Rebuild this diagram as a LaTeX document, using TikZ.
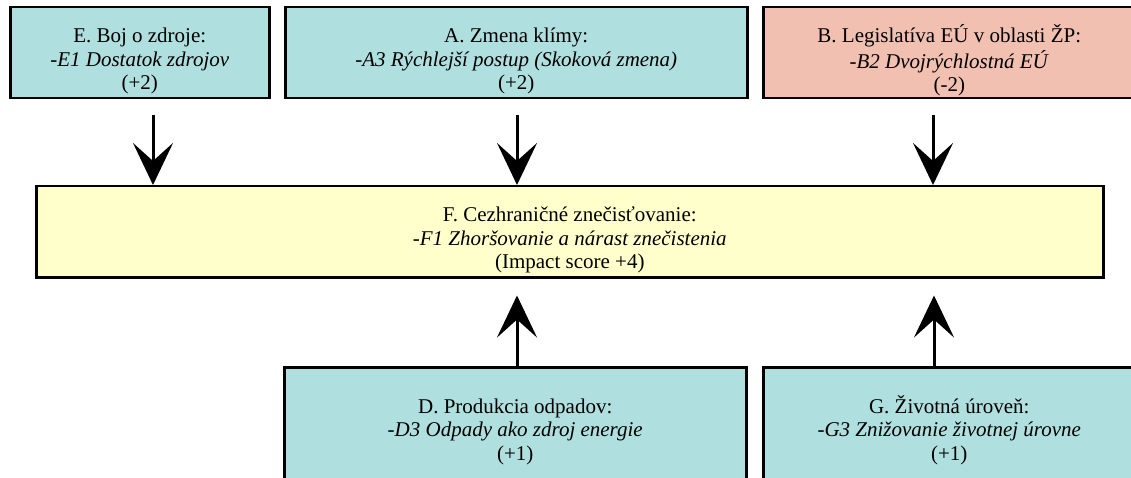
\documentclass[tikz,border=0pt]{standalone}
\usepackage{fontspec}
\setmainfont{Liberation Serif}
\usetikzlibrary{arrows.meta}
\definecolor{tealfill}{RGB}{176,223,223}
\definecolor{pinkfill}{RGB}{241,192,176}
\definecolor{yellowfill}{RGB}{255,255,204}
\newcommand{\boxtext}[3]{\setlength{\tabcolsep}{0pt}\renewcommand{\arraystretch}{1}\begin{tabular}[t]{c}#1\\ \textit{#2}\\ #3\end{tabular}}
\tikzset{
  boxnode/.style={draw=black, line width=2.5pt, inner sep=0pt, anchor=north west},
  txtnode/.style={anchor=base, inner sep=0pt, font=\fontsize{21}{23.5}\selectfont},
  bigarrow/.style={line width=3pt, -{Stealth[length=42pt,width=40pt,inset=18pt]}}
}
\begin{document}
\begin{tikzpicture}[x=1pt,y=1pt]
\useasboundingbox (0,0) rectangle (1131,477);
% boxes
\node[boxnode, fill=tealfill, minimum width=259, minimum height=91] (E) at (9,471) {};
\node[boxnode, fill=tealfill, minimum width=462, minimum height=91] (A) at (284,471) {};
\node[boxnode, fill=pinkfill, minimum width=372, minimum height=91] (B) at (762,471) {};
\node[boxnode, fill=yellowfill, minimum width=1067, minimum height=91] (F) at (35,292) {};
\node[boxnode, fill=tealfill, minimum width=462, minimum height=131] (D) at (283,111) {};
\node[boxnode, fill=tealfill, minimum width=372, minimum height=131] (G) at (762,111) {};
% texts
\node[txtnode] (Et) at ([yshift=-37]E.north) {\boxtext{E. Boj o zdroje:}{-E1 Dostatok zdrojov}{(+2)}};
\node[txtnode] (At) at ([yshift=-37]A.north) {\boxtext{A. Zmena klímy:}{-A3 Rýchlejší postup (Skoková zmena)}{(+2)}};
\node[txtnode] (Bt) at ([yshift=-37]B.north) {\boxtext{B. Legislatíva EÚ v oblasti ŽP:}{-B2 Dvojrýchlostná EÚ}{(-2)}};
\node[txtnode] (Ft) at ([yshift=-37]F.north) {\boxtext{F. Cezhraničné znečisťovanie:}{-F1 Zhoršovanie a nárast znečistenia}{(Impact score +4)}};
\node[txtnode] (Dt) at ([yshift=-47]D.north) {\boxtext{D. Produkcia odpadov:}{-D3 Odpady ako zdroj energie}{(+1)}};
\node[txtnode] (Gt) at ([yshift=-47]G.north) {\boxtext{G. Životná úroveň:}{-G3 Znižovanie životnej úrovne}{(+1)}};
% arrow x positions
\coordinate (xE) at (153,0);
\coordinate (xA) at (517,0);
\coordinate (xB) at (933,0);
\coordinate (xD) at (517,0);
\coordinate (xG) at (934,0);
% arrows
\draw[bigarrow, shorten <=16pt] (E.south -| xE) -- (F.north -| xE);
\draw[bigarrow, shorten <=16pt] (A.south -| xA) -- (F.north -| xA);
\draw[bigarrow, shorten <=16pt] (B.south -| xB) -- (F.north -| xB);
\draw[bigarrow, shorten >=17pt] (D.north -| xD) -- (F.south -| xD);
\draw[bigarrow, shorten >=17pt] (G.north -| xG) -- (F.south -| xG);
\end{tikzpicture}
\end{document}
